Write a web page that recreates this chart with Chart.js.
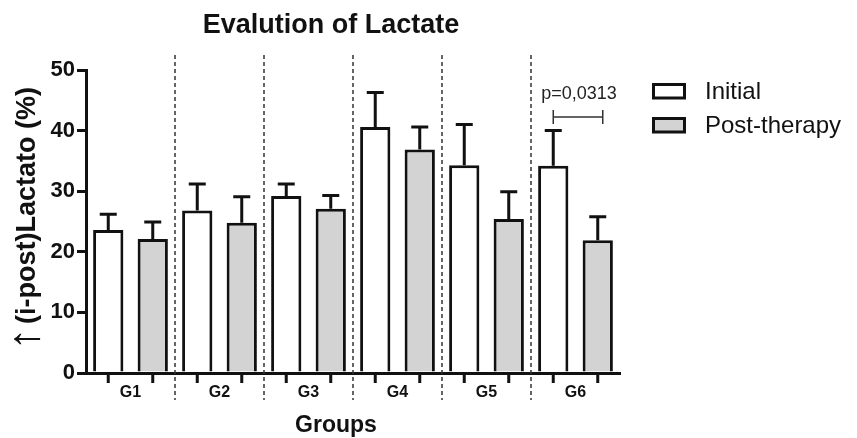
<!DOCTYPE html>
<html>
<head>
<meta charset="utf-8">
<script src="https://cdn.jsdelivr.net/npm/chart.js@4.4.0/dist/chart.umd.min.js"></script>
<style>
	body { margin: 0; background: #fff; }
</style>
</head>
<body>
<canvas id="lactateChart" width="857" height="438"></canvas>
<script>
// values
var groups = ['G1', 'G2', 'G3', 'G4', 'G5', 'G6'];
var initial = [23.6, 26.8, 29.2, 40.6, 34.3, 34.2];
var initialErr = [2.6, 4.4, 2.0, 5.7, 6.7, 5.8];
var post = [22.1, 24.8, 27.1, 36.9, 25.4, 21.9];
var postErr = [2.8, 4.3, 2.2, 3.7, 4.5, 3.9];
var yTicks = [0, 10, 20, 30, 40, 50];
var seriesNames = ['Initial', 'Post-therapy'];
var pLabel = 'p=0,0313';
var pGroup = 5;

var FONT = "'Liberation Sans', Arial, sans-serif";
var INK = '#111';

var extras = {
	id: 'extras',
	afterDatasetsDraw: function(chart) {
		var ctx = chart.ctx;
		var y = chart.scales.y;
		var area = chart.chartArea;
		var errs = [initialErr, postErr];
		ctx.save();
		ctx.strokeStyle = INK;
		ctx.lineWidth = 3;
		chart.data.datasets.forEach(function(ds, d) {
			chart.getDatasetMeta(d).data.forEach(function(bar, i) {
				var top = y.getPixelForValue(ds.data[i] + errs[d][i]);
				ctx.beginPath();
				ctx.moveTo(bar.x, bar.y);
				ctx.lineTo(bar.x, top);
				ctx.moveTo(bar.x - 8.5, top);
				ctx.lineTo(bar.x + 8.5, top);
				// tick mark under the axis
				ctx.moveTo(bar.x, area.bottom);
				ctx.lineTo(bar.x, area.bottom + 10);
				ctx.stroke();
			});
		});
		ctx.restore();
	},
	afterDraw: function(chart) {
		var ctx = chart.ctx;
		var x = chart.scales.x;
		var area = chart.chartArea;
		ctx.save();

		// dashed separators between groups
		ctx.strokeStyle = '#333';
		ctx.lineWidth = 1.5;
		ctx.setLineDash([4, 3]);
		for (var i = 0; i < groups.length - 1; i++) {
			var sx = (x.getPixelForValue(i) + x.getPixelForValue(i + 1)) / 2;
			ctx.beginPath();
			ctx.moveTo(sx, area.top - 15);
			ctx.lineTo(sx, area.bottom + 27);
			ctx.stroke();
		}
		ctx.setLineDash([]);

		// title
		ctx.fillStyle = INK;
		ctx.textAlign = 'center';
		ctx.textBaseline = 'alphabetic';
		ctx.font = 'bold 27px ' + FONT;
		ctx.fillText('Evalution of Lactate', 331, 33);

		// x title
		ctx.font = 'bold 23px ' + FONT;
		ctx.fillText('Groups', 336, 432);

		// y title, rotated, arrow first
		ctx.save();
		ctx.translate(27, 0);
		ctx.rotate(-Math.PI / 2);
		ctx.textBaseline = 'middle';
		ctx.textAlign = 'center';
		ctx.font = '44px ' + FONT;
		ctx.fillText('\u2191', -339, 0);
		ctx.textAlign = 'left';
		ctx.font = 'bold 27px ' + FONT;
		ctx.fillText('(i-post)Lactato (%)', -324, 1);
		ctx.restore();

		// legend
		ctx.lineWidth = 3;
		ctx.strokeStyle = INK;
		ctx.textAlign = 'left';
		ctx.font = '24px ' + FONT;
		chart.data.datasets.forEach(function(ds, d) {
			var by = 84.5 + d * 34;
			ctx.fillStyle = ds.backgroundColor;
			ctx.fillRect(653.5, by, 31, 13.5);
			ctx.strokeRect(653.5, by, 31, 13.5);
			ctx.fillStyle = INK;
			ctx.fillText(seriesNames[d], 705, 99 + d * 34);
		});

		// p-value bracket over G6
		var a = chart.getDatasetMeta(0).data[pGroup].x;
		var b = chart.getDatasetMeta(1).data[pGroup].x + 5;
		ctx.strokeStyle = '#333';
		ctx.lineWidth = 1.5;
		ctx.beginPath();
		ctx.moveTo(a, 110); ctx.lineTo(a, 124);
		ctx.moveTo(a, 117); ctx.lineTo(b, 117);
		ctx.moveTo(b, 110); ctx.lineTo(b, 124);
		ctx.stroke();
		ctx.fillStyle = '#222';
		ctx.textAlign = 'center';
		ctx.font = '18px ' + FONT;
		ctx.fillText(pLabel, 579, 99);

		ctx.restore();
	}
};

var ctx = document.getElementById('lactateChart').getContext('2d');
var lactateChart = new Chart(ctx, {
	type: 'bar',
	data: {
		labels: groups,
		datasets: [{
			label: seriesNames[0],
			data: initial,
			backgroundColor: '#ffffff',
			borderColor: INK,
			borderWidth: 3
		}, {
			label: seriesNames[1],
			data: post,
			backgroundColor: '#d3d3d3',
			borderColor: INK,
			borderWidth: 3
		}]
	},
	options: {
		responsive: false,
		animation: false,
		layout: { padding: { left: 0, top: 70, right: 237, bottom: 35 } },
		datasets: { bar: { categoryPercentage: 1.0, barPercentage: 0.68 } },
		plugins: {
			legend: { display: false },
			title: { display: false },
			tooltip: { enabled: false }
		},
		scales: {
			x: {
				grid: { display: false, drawTicks: false },
				border: { display: true, color: INK, width: 3 },
				ticks: { color: INK, padding: 10, font: { family: FONT, size: 16, weight: 'bold' } },
				afterFit: function(scale) { scale.height = 30; }
			},
			y: {
				min: yTicks[0],
				max: yTicks[yTicks.length - 1],
				afterBuildTicks: function(scale) {
					scale.ticks = yTicks.map(function(v) { return { value: v }; });
				},
				grid: { drawOnChartArea: false, drawTicks: true, tickLength: 9, lineWidth: 3, color: INK },
				border: { display: true, color: INK, width: 3 },
				ticks: { color: INK, padding: 2, font: { family: FONT, size: 22, weight: 'bold' } },
				afterFit: function(scale) { scale.width = 86; }
			}
		}
	},
	plugins: [extras]
});
</script>
</body>
</html>
